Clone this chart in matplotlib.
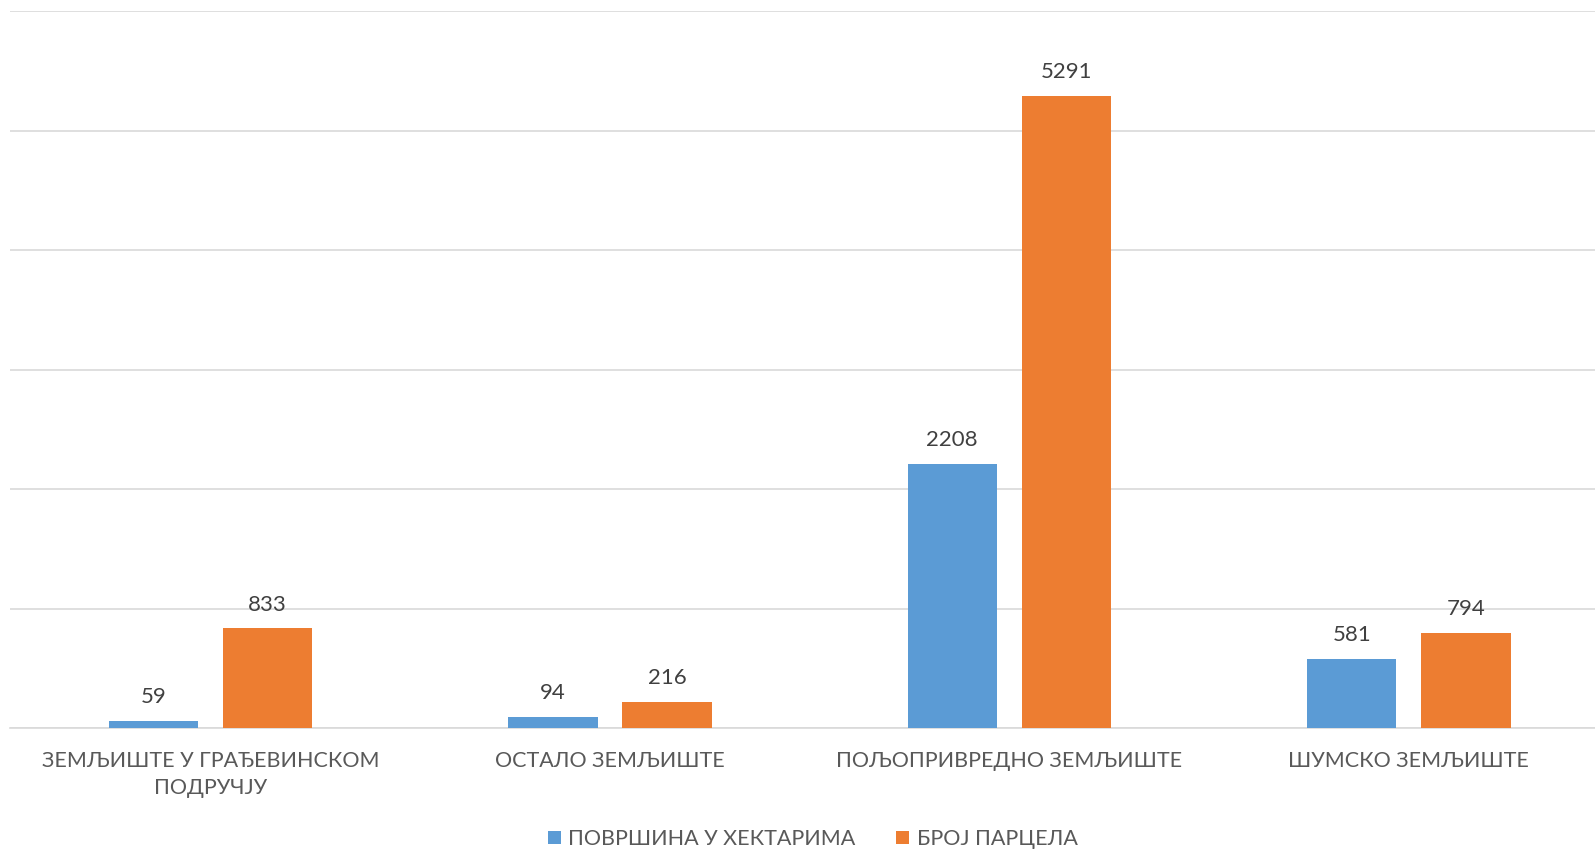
import matplotlib
matplotlib.use("Agg")
import matplotlib.pyplot as plt
import numpy as np

categories = ["ЗЕМЉИШТЕ У ГРАЂЕВИНСКОМ\nПОДРУЧЈУ", "ОСТАЛО ЗЕМЉИШТЕ",
              "ПОЉОПРИВРЕДНО ЗЕМЉИШТЕ", "ШУМСКО ЗЕМЉИШТЕ"]
area_ha = [59, 94, 2208, 581]
parcels = [833, 216, 5291, 794]
series_names = ["ПОВРШИНА У ХЕКТАРИМА", "БРОЈ ПАРЦЕЛА"]

plt.rcParams['font.family'] = ['Lato', 'DejaVu Sans']

fig = plt.figure(figsize=(15.95, 8.49), dpi=100)
ax = fig.add_axes([10 / 1595, 121 / 849, 1585 / 1595, 717 / 849])

x = np.arange(len(categories))
w = 0.224
off = 0.143
b1 = ax.bar(x - off, area_ha, w, color='#5B9BD5', label=series_names[0], zorder=3)
b2 = ax.bar(x + off, parcels, w, color='#ED7D31', label=series_names[1], zorder=3)

for bars in (b1, b2):
    for bar in bars:
        h = bar.get_height()
        ax.annotate(f'{int(h)}', (bar.get_x() + bar.get_width() / 2, h),
                    xytext=(0, 10), textcoords='offset points',
                    ha='center', va='bottom', fontsize=16, color='#404040')

ax.set_ylim(0, 6000)
ax.set_xlim(-0.502, 3.466)
ax.set_yticks(range(0, 6001, 1000))
ax.yaxis.grid(True, color='#D9D9D9', linewidth=1.2, zorder=0)
ax.tick_params(axis='y', left=False, labelleft=False)
ax.tick_params(axis='x', bottom=False, pad=13)
ax.set_xticks(x)
ax.set_xticklabels(categories, fontsize=15.5, color='#595959', linespacing=1.45)
for s in ['top', 'right', 'left']:
    ax.spines[s].set_visible(False)
ax.spines['bottom'].set_color('#D9D9D9')
ax.spines['bottom'].set_linewidth(1.2)

fig.legend(loc='lower center', bbox_to_anchor=(0.5095, -0.023), ncol=2, frameon=False,
           fontsize=15.5, labelcolor='#595959', handlelength=0.6, handleheight=0.6,
           handletextpad=0.35, columnspacing=1.9)

fig.savefig('out.png', dpi=100)
